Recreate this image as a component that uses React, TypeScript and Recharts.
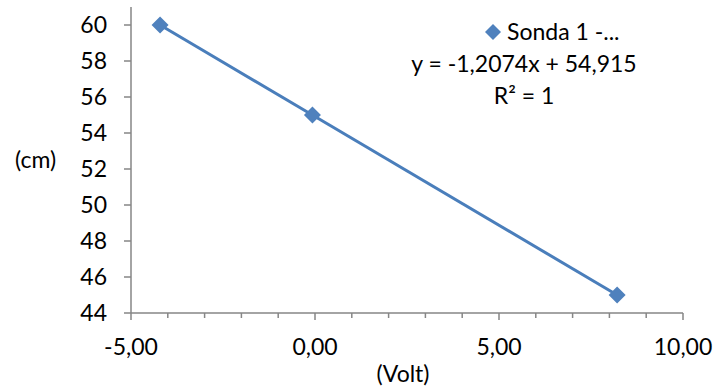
import React from 'react';
import { ScatterChart, Scatter, XAxis, YAxis, Legend } from 'recharts';

// values
const voltValues = [-4.21, -0.07, 8.21];
const cmValues = [60, 55, 45];
const yTicks = [44, 46, 48, 50, 52, 54, 56, 58, 60];
const xTicks = [-5, -4, -3, -2, -1, 0, 1, 2, 3, 4, 5, 6, 7, 8, 9, 10];
const seriesName = 'Sonda 1 -...';
const trendLabel = 'y = -1,2074x + 54,915';
const r2Label = 'R² = 1';

const data = voltValues.map((v, i) => ({ x: v, y: cmValues[i] }));

const FONT = 'Lato, "Noto Sans", sans-serif';
const FS = 23;
const AXIS_COLOR = '#868686';
const MARKER = '#4F81BD';

const Diamond = (props: any) => {
  const { cx, cy } = props;
  const r = 8.5;
  return (
    <polygon
      points={`${cx},${cy - r} ${cx + r},${cy} ${cx},${cy + r} ${cx - r},${cy}`}
      fill={MARKER}
    />
  );
};

const XTick = (props: any) => {
  const { x, y, payload } = props;
  const v = payload.value as number;
  const major = v % 5 === 0;
  return (
    <g>
      <line x1={x} y1={y} x2={x} y2={y + (major ? 7 : 5)} stroke={AXIS_COLOR} strokeWidth={1.5} />
      {major && (
        <text x={x} y={y + 42} textAnchor="middle" fontSize={FS} fontFamily={FONT} fill="#000">
          {v.toFixed(2).replace('.', ',')}
        </text>
      )}
    </g>
  );
};

const YLabel = (props: any) => {
  const { viewBox } = props;
  const cy = viewBox.y + viewBox.height / 2;
  return (
    <text x={15} y={cy + 8} fontSize={FS} fontFamily={FONT} fill="#000">(cm)</text>
  );
};

const XLabel = (props: any) => {
  const { viewBox } = props;
  const cx = viewBox.x + viewBox.width / 2;
  return (
    <text x={cx - 4} y={382} textAnchor="middle" fontSize={FS} fontFamily={FONT} fill="#000">(Volt)</text>
  );
};

const LegendBox = () => (
  <svg width={718} height={120} style={{ display: 'block' }}>
    <polygon points="493,24 501,32 493,40 485,32" fill={MARKER} />
    <text x={507} y={40} fontSize={FS} fontFamily={FONT} fill="#000">{seriesName}</text>
    <text x={524} y={72} fontSize={FS} fontFamily={FONT} fill="#000" textAnchor="middle">{trendLabel}</text>
    <text x={524} y={104} fontSize={FS} fontFamily={FONT} fill="#000" textAnchor="middle">{r2Label}</text>
  </svg>
);

export default function App() {
  return (
    <div style={{ position: 'absolute', left: 0, top: 0 }}>
      <ScatterChart width={718} height={389} margin={{ top: 7, right: 35, bottom: 6, left: 0 }}>
        <XAxis
          type="number"
          dataKey="x"
          domain={[-5, 10]}
          ticks={xTicks}
          interval={0}
          tickSize={0}
          tickMargin={0}
          tickLine={false}
          tick={<XTick />}
          height={70}
          axisLine={{ stroke: AXIS_COLOR, strokeWidth: 1.5 }}
          label={<XLabel />}
        />
        <YAxis
          type="number"
          dataKey="y"
          domain={[44, 61]}
          ticks={yTicks}
          interval={0}
          width={131}
          tickSize={7}
          tickMargin={17}
          tickLine={{ stroke: AXIS_COLOR, strokeWidth: 1.5 }}
          axisLine={{ stroke: AXIS_COLOR, strokeWidth: 1.5 }}
          tick={{ fontSize: FS, fontFamily: FONT, fill: '#000' }}
          label={<YLabel />}
        />
        <Legend
          layout="horizontal"
          verticalAlign="middle"
          align="center"
          wrapperStyle={{ top: 0, left: 0, width: 718 }}
          content={() => <LegendBox />}
        />
        <Scatter
          name={seriesName}
          data={data}
          fill={MARKER}
          line={{ stroke: '#4A7EBB', strokeWidth: 3 }}
          shape={<Diamond />}
          isAnimationActive={false}
        />
      </ScatterChart>
    </div>
  );
}
